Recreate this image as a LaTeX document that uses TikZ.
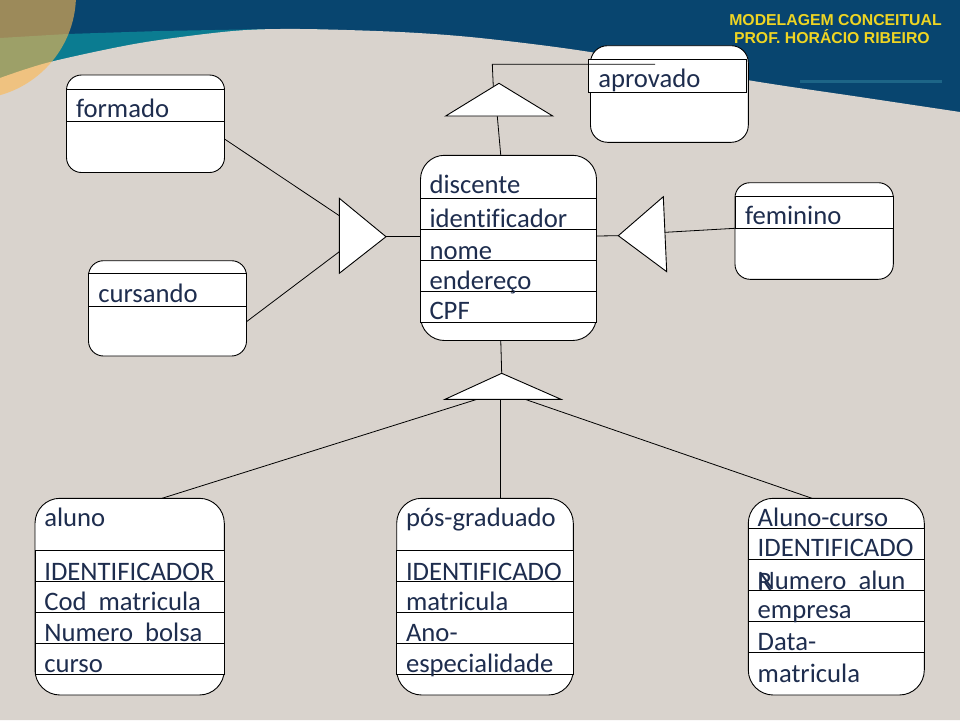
\documentclass[tikz,border=0pt]{standalone}
\usepackage{fontspec}
\setmainfont{Carlito}[Ligatures=NoCommon]
\newfontfamily\hdrfont{Liberation Sans}
\usetikzlibrary{calc}
\definecolor{bgbeige}{HTML}{D9D3CD}
\definecolor{bgblue}{HTML}{08456F}
\definecolor{bgteal}{HTML}{0B7C91}
\definecolor{tealline}{HTML}{1D6587}
\definecolor{hdryellow}{HTML}{EFD523}
\definecolor{txtnavy}{HTML}{1E2D4E}
\definecolor{circorange}{HTML}{FFB84D}
\newcommand\ERbox[6]{\node[box, rounded corners=#6pt, minimum width={#4pt-#2pt}, minimum height={#5pt-#3pt}] (#1) at ({(#2+#4)/2},{(#3+#5)/2}) {};}
\begin{document}
\begin{tikzpicture}[x=1pt,y=-1pt,
  box/.style={draw=black, fill=white, line width=0.9pt, inner sep=0pt, outer sep=0pt},
  grid/.style={draw=black, fill=white, line width=0.9pt},
  rowline/.style={draw=black, line width=0.9pt},
  tri/.style={draw=black, fill=white, line width=0.9pt, line join=miter},
  link/.style={draw=black, line width=0.8pt},
  lbl/.style={anchor=base west, inner sep=0pt, outer sep=0pt, text=txtnavy, font=\fontsize{26.67}{30}\selectfont},
  hdr/.style={anchor=base west, inner sep=0pt, outer sep=0pt, text=hdryellow, font=\hdrfont\bfseries\fontsize{15.8}{18}\selectfont}
]
\useasboundingbox (0,0) rectangle (960,720);
% background
\fill[bgblue] (0,0) rectangle (960,720);
\fill[bgteal] (0,38) -- (67,34) -- (160,31) -- (270,29) -- (320,29) -- (320,80) -- (0,100) -- cycle;
\fill[bgbeige] plot[smooth] coordinates {(0,78) (50,62) (140,43) (233,31) (300,29) (400,32) (480,38) (590,52) (747,80) (860,97) (960,112)} -- (960,720) -- (0,720) -- cycle;
\fill[circorange, opacity=0.6] (-28,-5) circle[radius=104pt];
\draw[tealline, line width=3pt] (800,81) -- (942,81);
\node[hdr] (h1) at (729.3,25) {MODELAGEM CONCEITUAL};
\node[hdr] (h2) at (734,43.3) {PROF. HORÁCIO RIBEIRO};

% boxes
\ERbox{formado}{66.5}{75}{224.5}{172.5}{15}
\path[grid] (66.5,89) rectangle (224.5,121.7);
\ERbox{cursando}{88.5}{260.7}{246.5}{356}{15}
\path[grid] (88.5,273.3) rectangle (246.5,306.7);
\ERbox{aprovado}{590.5}{45.7}{748.3}{142.3}{17}
\path[grid] (588.3,59.3) rectangle (746.7,92.7);
\ERbox{discente}{420.5}{155.3}{596.5}{340.5}{24}
\path[grid] (420.5,198.3) rectangle (596.5,322.3);
\foreach \yy in {229.3,260.3,291.3} \draw[rowline] (420.5,\yy) -- (596.5,\yy);
\ERbox{feminino}{735}{182.7}{893.3}{279.3}{15}
\path[grid] (735,196) rectangle (893.3,228.3);
\ERbox{aluno}{35}{498.3}{224.3}{695}{25}
\path[grid] (35,550.7) rectangle (224.3,674.3);
\foreach \yy in {581,612.3,643.3} \draw[rowline] (35,\yy) -- (224.3,\yy);
\ERbox{pos}{396.7}{498.3}{573.3}{695}{25}
\path[grid] (396.7,550.7) rectangle (573.3,674.3);
\foreach \yy in {581,612.3,643.3} \draw[rowline] (396.7,\yy) -- (573.3,\yy);
\ERbox{alunocurso}{748.3}{498.3}{924.3}{695}{25}
\path[grid] (748.3,528.3) rectangle (924.3,652.3);
\foreach \yy in {559.3,590,621} \draw[rowline] (748.3,\yy) -- (924.3,\yy);

% texts
\node[lbl] (tformado) at (76,117.7) {formado};
\node[lbl] (tcursando) at (98.3,302.3) {cursando};
\node[lbl] (taprovado) at (598.3,87.3) {aprovado};
\node[lbl] (tfeminino) at (745,224.3) {feminino};
\node[lbl] (td1) at (429.5,193.3) {discente};
\node[lbl] (td2) at (429.5,227.3) {identificador};
\node[lbl] (td3) at (429.5,259.3) {nome};
\node[lbl] (td4) at (429.5,289) {endereço};
\node[lbl] (td5) at (429.5,319.3) {CPF};
\node[lbl] (ta1) at (44.3,526) {aluno};
\node[lbl] (ta2) at (44.3,580) {IDENTIFICADOR};
\node[lbl] (ta3) at (44.3,610.7) {Cod\ \ matricula};
\node[lbl] (ta4) at (44.3,641) {Numero\ \ bolsa};
\node[lbl] (ta5) at (44.3,672.7) {curso};
\node[lbl] (tp1) at (406,526) {pós-graduado};
\node[lbl] (tp2) at (406,580) {IDENTIFICADO};
\node[lbl] (tp3) at (406,610.7) {matricula};
\node[lbl] (tp4) at (406,641) {Ano-};
\node[lbl] (tp5) at (406,672.7) {especialidade};
\node[lbl] (tc1) at (757.7,526) {Aluno-curso};
\node[lbl] (tc2) at (757.7,556) {IDENTIFICADO};
\node[lbl] (tc3r) at (757.7,590.5) {R};
\node[lbl] (tc3) at (757.7,589) {Numero\ \ alun};
\node[lbl] (tc4) at (757.7,618.3) {empresa};
\node[lbl] (tc5) at (757.7,650) {Data-};
\node[lbl] (tc6) at (757.7,682.7) {matricula};

% triangle vertices
\coordinate (tTa) at (499,83.3);
\coordinate (tTl) at (445.7,116);
\coordinate (tTr) at (552.7,116);
\coordinate (tLt) at (339.3,198.3);
\coordinate (tLb) at (339.3,273.3);
\coordinate (tLp) at (386,236.7);
\coordinate (tRp) at (618.3,235.7);
\coordinate (tRt) at (663.3,196.7);
\coordinate (tRb) at (666.7,271.7);
\coordinate (tBa) at (501.7,373.3);
\coordinate (tBl) at (445,399.3);
\coordinate (tBr) at (561,399.3);
\coordinate (aprJ) at (492.3,64.3);

% connectors
\draw[link] (formado.east |- 0,139) -- ($(tLt)!0.232!(tLb)$);
\draw[link] (cursando.east |- 0,321.7) -- ($(tLt)!0.712!(tLb)$);
\draw[link] (tLp) -- (discente.west |- tLp);
\draw[link] (discente.east |- 0,236) -- (tRp);
\draw[link] ($(tRt)!0.475!(tRb)$) -- (feminino.west |- 0,228.3);
\draw[link] ($(discente.north west)!0.456!(discente.north east)$) -- ($(tTl)!0.482!(tTr)$);
\draw[link] ($(tTa)!0.107!(tTl)$) -- (aprJ) -- ($(aprovado.west |- aprJ)+(64.5,0)$);
\draw[link] ($(discente.south west)!0.456!(discente.south east)$) -- (tBa);
\coordinate (bB) at ($(tBl)!0.48!(tBr)$);
\draw[link] (bB) -- (bB |- pos.north);
\draw[link] ($(tBl)!0.276!(tBr)$) -- ($(aluno.north west)!0.671!(aluno.north east)$);
\draw[link] ($(tBl)!0.69!(tBr)$) -- ($(alunocurso.north west)!0.362!(alunocurso.north east)$);

% triangles
\path[tri] (tTa) -- (tTl) -- (tTr) -- cycle;
\path[tri] (tLt) -- (tLb) -- (tLp) -- cycle;
\path[tri] (tRp) -- (tRt) -- (tRb) -- cycle;
\path[tri] (tBa) -- (tBl) -- (tBr) -- cycle;
\end{tikzpicture}
\end{document}
